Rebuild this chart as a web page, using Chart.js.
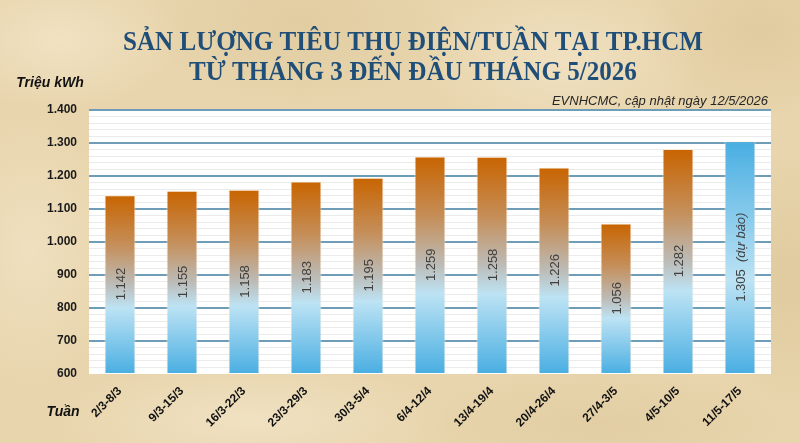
<!DOCTYPE html>
<html lang="vi">
<head>
<meta charset="utf-8">
<title>Sản lượng tiêu thụ điện/tuần tại TP.HCM</title>
<script src="https://cdn.jsdelivr.net/npm/chart.js@4.4.1/dist/chart.umd.min.js"></script>
<style>
  html, body { margin: 0; padding: 0; }
  #wrap {
    position: relative;
    width: 800px;
    height: 443px;
    background-color: #e8d5ad;
    background-image:
      radial-gradient(ellipse 120px 70px at 60px 40px, rgba(246,234,208,0.6), rgba(246,234,208,0)),
      radial-gradient(ellipse 160px 90px at 300px 20px, rgba(216,192,144,0.4), rgba(216,192,144,0)),
      radial-gradient(ellipse 140px 80px at 560px 60px, rgba(245,232,205,0.6), rgba(245,232,205,0)),
      radial-gradient(ellipse 120px 90px at 760px 30px, rgba(214,188,140,0.4), rgba(214,188,140,0)),
      radial-gradient(ellipse 90px 140px at 30px 250px, rgba(246,234,208,0.5), rgba(246,234,208,0)),
      radial-gradient(ellipse 80px 130px at 790px 280px, rgba(216,192,144,0.5), rgba(216,192,144,0)),
      radial-gradient(ellipse 200px 60px at 250px 420px, rgba(245,233,208,0.6), rgba(245,233,208,0)),
      radial-gradient(ellipse 200px 60px at 600px 425px, rgba(218,196,150,0.4), rgba(218,196,150,0));
  }
</style>
</head>
<body>
<div id="wrap"><canvas id="chart"></canvas></div>
<script>
// ---------- dữ liệu ----------
const weeks = ['2/3-8/3', '9/3-15/3', '16/3-22/3', '23/3-29/3', '30/3-5/4', '6/4-12/4',
               '13/4-19/4', '20/4-26/4', '27/4-3/5', '4/5-10/5', '11/5-17/5'];
const consumption = [1142, 1155, 1158, 1183, 1195, 1259, 1258, 1226, 1056, 1282, 1305];
const forecast = [false, false, false, false, false, false, false, false, false, false, true];
const yMin = 600, yMax = 1400, yStep = 100, yMinorStep = 20;

const titleLines = ['SẢN LƯỢNG TIÊU THỤ ĐIỆN/TUẦN TẠI TP.HCM', 'TỪ THÁNG 3 ĐẾN ĐẦU THÁNG 5/2026'];
const sourceText = 'EVNHCMC, cập nhật ngày 12/5/2026';
const yTitle = 'Triệu kWh';
const xTitle = 'Tuần';
const forecastNote = '(dự báo)';

const fmt = v => String(v).replace(/\B(?=(\d{3})+(?!\d))/g, '.');

// ---------- gradient cho cột ----------
function barFill(context) {
  const chart = context.chart;
  const area = chart.chartArea;
  if (!area) return '#4aafe2';
  const y = chart.scales.y;
  const top = y.getPixelForValue(consumption[context.dataIndex]);
  const bottom = y.getPixelForValue(yMin);
  const g = chart.ctx.createLinearGradient(0, top, 0, bottom);
  if (forecast[context.dataIndex]) {
    g.addColorStop(0, '#49aee2');
    g.addColorStop(0.6, '#bde3f4');
    g.addColorStop(1, '#49aee2');
  } else {
    g.addColorStop(0, '#c86400');
    g.addColorStop(0.28, '#c58f5a');
    g.addColorStop(0.5, '#bcbcb8');
    g.addColorStop(0.63, '#bde3f4');
    g.addColorStop(1, '#49aee2');
  }
  return g;
}

// ---------- plugin: nền trắng, nhãn, tiêu đề ----------
const decor = {
  id: 'decor',
  beforeDraw(chart) {
    const {ctx, chartArea: a} = chart;
    ctx.save();
    ctx.fillStyle = '#ffffff';
    ctx.fillRect(a.left, a.top, a.right - a.left, a.bottom - a.top);
    ctx.restore();
  },
  afterDatasetsDraw(chart) {
    const ctx = chart.ctx;
    const meta = chart.getDatasetMeta(0);
    ctx.save();
    ctx.fillStyle = '#404040';
    ctx.textBaseline = 'middle';
    meta.data.forEach((bar, i) => {
      const cx = bar.x;
      const cy = (bar.y + bar.base) / 2;
      const main = fmt(consumption[i]);
      ctx.save();
      ctx.translate(cx, cy);
      ctx.rotate(-Math.PI / 2);
      ctx.font = '13px "Liberation Sans", Arial, sans-serif';
      if (forecast[i]) {
        const w1 = ctx.measureText(main + '  ').width;
        ctx.font = 'italic 13px "Liberation Sans", Arial, sans-serif';
        const w2 = ctx.measureText(forecastNote).width;
        let x0 = -(w1 + w2) / 2;
        ctx.textAlign = 'left';
        ctx.font = '13px "Liberation Sans", Arial, sans-serif';
        ctx.fillText(main, x0, 1);
        ctx.font = 'italic 13px "Liberation Sans", Arial, sans-serif';
        ctx.fillText(forecastNote, x0 + w1, 1);
      } else {
        ctx.textAlign = 'center';
        ctx.fillText(main, 0, 1);
      }
      ctx.restore();
    });
    ctx.restore();
  },
  afterDraw(chart) {
    const ctx = chart.ctx;
    ctx.save();
    // tiêu đề, nén ngang cho giống bản gốc
    ctx.fillStyle = '#1f4e79';
    ctx.textAlign = 'center';
    ctx.textBaseline = 'alphabetic';
    ctx.font = 'bold 27px "Liberation Serif", "Times New Roman", serif';
    const sx = 580 / ctx.measureText(titleLines[0]).width;
    ctx.save();
    ctx.translate(413, 0);
    ctx.scale(sx, 1);
    ctx.fillText(titleLines[0], 0, 50);
    ctx.fillText(titleLines[1], 0, 80);
    ctx.restore();

    // đơn vị trục
    ctx.fillStyle = '#111';
    ctx.font = 'bold italic 14px "Liberation Sans", Arial, sans-serif';
    ctx.fillText(yTitle, 50, 87);
    ctx.fillText(xTitle, 63, 416);

    // nguồn
    ctx.textAlign = 'right';
    ctx.fillStyle = '#262626';
    ctx.font = 'italic 13px "Liberation Sans", Arial, sans-serif';
    ctx.fillText(sourceText, 768, 105);
    ctx.restore();
  }
};

const ctx = document.getElementById('chart').getContext('2d');
new Chart(ctx, {
  type: 'bar',
  data: {
    labels: weeks,
    datasets: [{
      data: consumption,
      base: yMin,
      backgroundColor: barFill,
      borderColor: 'rgba(255,235,215,0.8)',
      borderWidth: 1,
      borderSkipped: 'bottom',
      barPercentage: 0.5,
      categoryPercentage: 1
    }]
  },
  options: {
    responsive: true,
    maintainAspectRatio: false,
    animation: false,
    layout: { padding: { top: 110, left: 0, right: 29, bottom: 0 } },
    plugins: {
      legend: { display: false },
      tooltip: { enabled: false },
      title: { display: false }
    },
    scales: {
      x: {
        grid: { display: false },
        border: { display: false },
        ticks: {
          color: '#111',
          font: { family: '"Liberation Sans", Arial, sans-serif', size: 12, weight: 'bold' },
          minRotation: 45,
          maxRotation: 45,
          autoSkip: false,
          padding: 2
        },
        afterFit: s => { s.height = 69; }
      },
      y: {
        min: yMin,
        max: yMax,
        border: { display: false },
        grid: {
          drawTicks: false,
          color: c => c.tick.value === yMin ? 'rgba(0,0,0,0)'
                    : (c.tick.value % yStep === 0 ? '#6f9cb6' : '#ebebeb'),
          lineWidth: c => c.tick.value % yStep === 0 ? 2 : 1
        },
        ticks: {
          stepSize: yMinorStep,
          autoSkip: false,
          padding: 12,
          color: '#1a1a1a',
          font: { family: '"Liberation Sans", Arial, sans-serif', size: 12, weight: 'bold' },
          callback: v => v % yStep === 0 ? fmt(v) : ''
        },
        afterFit: s => { s.width = 89; }
      }
    }
  },
  plugins: [decor]
});
</script>
</body>
</html>
